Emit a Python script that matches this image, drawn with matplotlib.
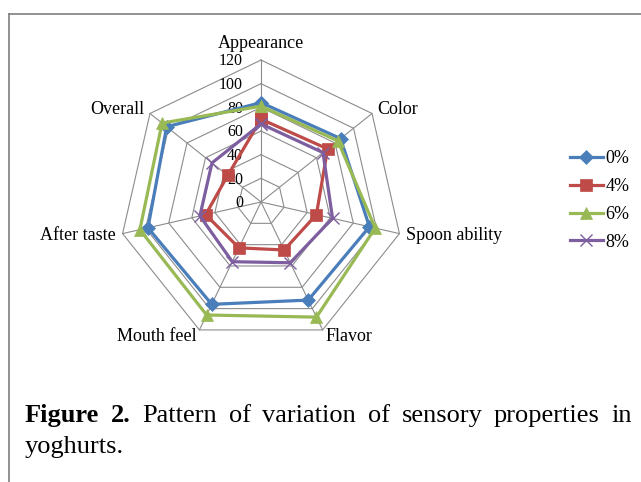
import numpy as np
import matplotlib.pyplot as plt
from matplotlib.lines import Line2D

plt.rcParams['font.family'] = ['Liberation Serif', 'DejaVu Serif']

# dados
atributos = ['Appearance', 'Color', 'Spoon ability', 'Flavor', 'Mouth feel', 'After taste', 'Overall']
series = ['0%', '4%', '6%', '8%']
v0 = [84, 86, 94, 92, 96, 98, 102]
v4 = [70, 72, 48, 45, 43, 48, 36]
v6 = [81, 83, 99, 108, 106, 105, 107]
v8 = [66, 67, 62, 57, 56, 53, 53]
niveis = [0, 20, 40, 60, 80, 100, 120]

cores = ['#4A7EBB', '#BE4B48', '#98B954', '#7D5FA0']
marcadores = ['D', 's', '^', 'x']
tamanhos = [7, 8.5, 9, 9]

fig = plt.figure(figsize=(6.41, 4.82), dpi=100)
ax = fig.add_axes([0.1857, 0.2863, 0.443, 0.5892], polar=True)
ax.set_theta_offset(np.pi / 2)
ax.set_theta_direction(-1)
ax.set_ylim(0, 120)
ax.axis('off')

n = len(atributos)
ang = np.arange(n) * 2 * np.pi / n
ang_f = np.append(ang, ang[0])

# grade em heptagono
for lv in niveis[1:]:
    ax.plot(ang_f, [lv] * (n + 1), color='#8c8c8c', lw=0.8, clip_on=False, zorder=1)
for a in ang:
    ax.plot([a, a], [0, 120], color='#8c8c8c', lw=0.8, clip_on=False, zorder=1)

for lv in niveis:
    ax.annotate(str(lv), xy=(0, lv), xytext=(-13, -1), textcoords='offset points',
                ha='right', va='center', fontsize=11.5, zorder=2)

for i, nome in enumerate(atributos):
    phi = np.pi / 2 - ang[i]
    c, s = np.cos(phi), np.sin(phi)
    if abs(c) < 0.1:
        ha, va, off = 'center', 'bottom', (0, 6)
    else:
        ha = 'left' if c > 0 else 'right'
        va = 'center'
        off = (5 * c, 5 * s)
    ax.annotate(nome, xy=(ang[i], 120), xytext=off, textcoords='offset points',
                ha=ha, va=va, fontsize=13, annotation_clip=False)

for vals, cor, m, ms, lab in zip([v0, v4, v6, v8], cores, marcadores, tamanhos, series):
    ax.plot(ang_f, vals + vals[:1], color=cor, lw=2.3, marker=m, ms=ms,
            mew=1 if m == 'x' else 0.5, mec=cor, label=lab, clip_on=False, zorder=3)

fig.legend(loc='center left', bbox_to_anchor=(561 / 641, 1 - 200.5 / 482), frameon=False,
           borderpad=0, handlelength=1.8, handletextpad=0.15, labelspacing=0.6, fontsize=13)

# moldura
fig.add_artist(Line2D([8.5 / 641, 1], [1 - 14 / 482] * 2, color='#7f7f7f', lw=1.2))
fig.add_artist(Line2D([8.5 / 641] * 2, [0, 1 - 14 / 482], color='#7f7f7f', lw=1.2))

# legenda da figura, linha 1 justificada
renderer = fig.canvas.get_renderer()
tokens = [('Figure', 'bold'), ('2.', 'bold')] + [(w, 'normal') for w in
          'Pattern of variation of sensory properties in'.split()]
y1 = 1 - 421.7 / 482
textos = [fig.text(0, y1, w, fontsize=19, fontweight=fw, va='baseline') for w, fw in tokens]
larg = [t.get_window_extent(renderer).width for t in textos]
x0, x1 = 25.0, 632.0
gap = (x1 - x0 - sum(larg)) / (len(textos) - 1)
x = x0
for t, w in zip(textos, larg):
    t.set_x(x / 641)
    x += w + gap
fig.text(25 / 641, 1 - 453.3 / 482, 'yoghurts.', fontsize=19, va='baseline')

fig.savefig('out.png', dpi=100)
